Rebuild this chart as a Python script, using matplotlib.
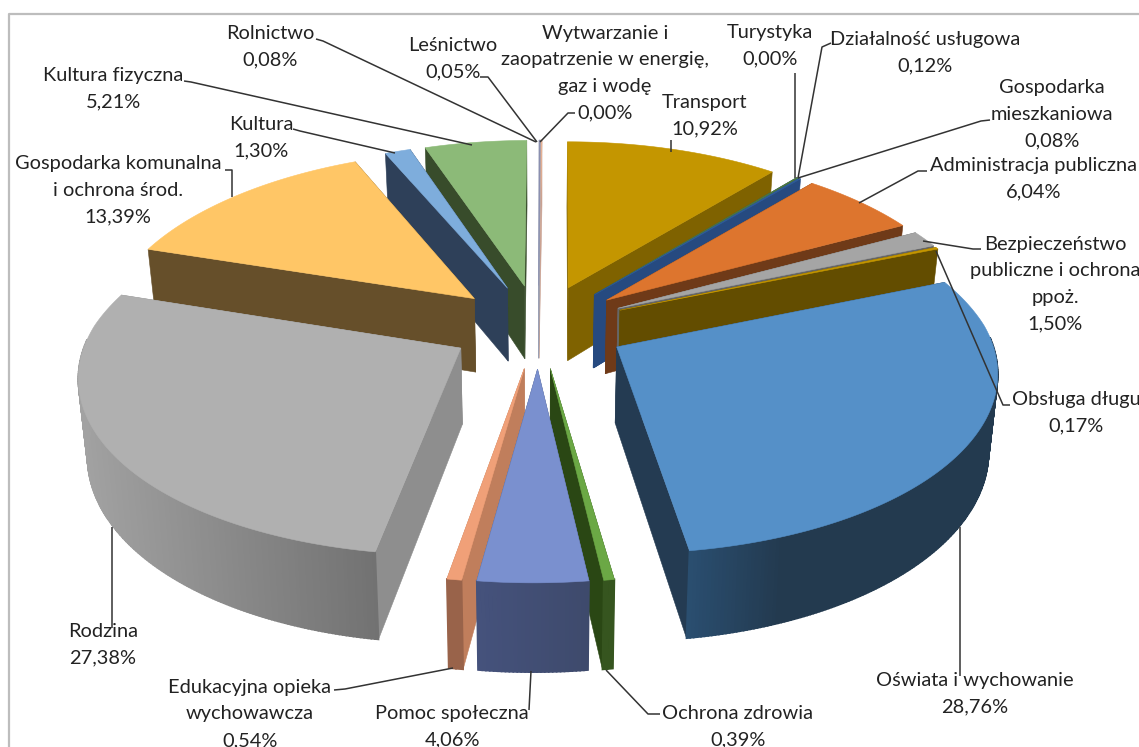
#!/usr/bin/env python3
"""
Exploded 3D pie of budget shares, drawn by hand since matplotlib has no 3D pie
"""

import numpy as np
import matplotlib
matplotlib.use('Agg')
import matplotlib.pyplot as plt
from matplotlib.patches import Polygon

# Slices, clockwise from 12 o'clock
names = ['Transport', 'Turystyka', 'Działalność usługowa', 'Gospodarka\nmieszkaniowa',
         'Administracja publiczna', 'Bezpieczeństwo\npubliczne i ochrona\nppoż.', 'Obsługa długu',
         'Oświata i wychowanie', 'Ochrona zdrowia', 'Pomoc społeczna',
         'Edukacyjna opieka\nwychowawcza', 'Rodzina', 'Gospodarka komunalna\ni ochrona środ.',
         'Kultura', 'Kultura fizyczna', 'Leśnictwo', 'Rolnictwo',
         'Wytwarzanie i\nzaopatrzenie w energię,\ngaz i wodę']
values = [10.92, 0.00, 0.12, 0.08, 6.04, 1.50, 0.17, 28.76, 0.39, 4.06,
          0.54, 27.38, 13.39, 1.30, 5.21, 0.05, 0.08, 0.00]

# Colours: top face, radial wall, outer wall left and right end
top_colors = ['#C49600', '#999999', '#4E7A3C', '#2E5C9A', '#DD752E', '#A5A5A5', '#C49600',
              '#5590C8', '#6BA845', '#7A90CF', '#F0A078', '#B0B0B0', '#FFC666',
              '#7EADDC', '#8CBA78', '#8A8FB0', '#E8B090', '#AAAAAA']
wall_colors = ['#7F6200', '#666666', '#264A80', '#264A80', '#6F3A18', '#666666', '#634D00',
               '#243B52', '#2A4714', '#434F74', '#C07E5C', '#8E8E8E', '#664F2A',
               '#2E4059', '#384C2B', '#9AA0B4', '#C8A090', '#888888']
arc_left = ['#7F6200', '#666666', '#264A80', '#264A80', '#6F3A18', '#666666', '#634D00',
            '#2A4E70', '#36551F', '#45527C', '#99634A', '#A2A2A2', '#664F2A',
            '#2E4059', '#384C2B', '#9AA0B4', '#C8A090', '#888888']
arc_right = ['#7F6200', '#666666', '#264A80', '#264A80', '#6F3A18', '#666666', '#634D00',
             '#233A4F', '#36551F', '#3E4A6C', '#99634A', '#727272', '#664F2A',
             '#2E4059', '#384C2B', '#9AA0B4', '#C8A090', '#888888']
# Share of the outer wall's width over which the shade changes
arc_reach = [1, 1, 1, 1, 1, 1, 1, 0.3, 1, 1, 1, 1, 1, 1, 1, 1, 1, 1]

# Text anchors and leader lines, in image pixels, same order as names
label_xy = [(705, 116), (770, 46), (925, 53), (1052, 114), (1034, 179), (1055, 284), (1076, 413),
            (975, 694), (738, 727), (452, 727), (250, 714), (103, 645), (118, 190),
            (261, 138), (113, 89), (453, 59), (270, 47), (605, 73)]
LINE_PITCH = 26.6
leaders = [[(671, 140), (671, 152)],
           [(795, 73), (795, 178)],
           [(831, 43), (822, 47), (798, 178)],
           [(990, 120), (981, 121), (798, 178)],
           [(927, 171), (918, 171), (859, 203)],
           [(981, 249), (973, 249), (923, 241)],
           [(1010, 405), (1003, 405), (936, 251)],
           [(960, 676), (960, 527)],
           [(660, 714), (648, 714), (606, 670)],
           [(529, 710), (531, 671)],
           [(334, 690), (345, 689), (453, 668)],
           [(112, 628), (112, 527)],
           [(225, 170), (232, 170), (232, 197)],
           [(293, 129), (300, 131), (395, 153)],
           [(184, 81), (191, 82), (472, 145)],
           [(480, 77), (488, 77), (537, 142)],
           [(316, 39), (323, 41), (536, 142)],
           [(575, 113), (568, 113), (540, 142)]]

# Projection of the pie plane on to the image
CX, CY = 540, 326
SX, SY = 371, 174
PERSP = 0.129
EXPLODE = 0.24
DEPTH = 75
SHRINK = 0.98
SHEAR = 0.02


def project(px, py):
    w = 1 + PERSP * py
    # back half comes in a bit more in x, and the whole pie leans to the left going down
    wx = w + 0.02 * np.maximum(py, 0)
    y = CY - SY * py / w
    return CX + SX * px / wx - SHEAR * (y - 250), y


def drop(x, y, py):
    # Same point on the underside of the slice
    w = 1 + PERSP * py
    return CX + (x - CX) * SHRINK, y + DEPTH / w


def blend(c1, c2, t):
    a = np.array(matplotlib.colors.to_rgb(c1))
    b = np.array(matplotlib.colors.to_rgb(c2))
    return tuple(a + (b - a) * t)


def add_poly(ax, pts, color, z, lw=0.4):
    ax.add_patch(Polygon(pts, closed=True, facecolor=color, edgecolor=color, linewidth=lw, zorder=z))


fig = plt.figure(figsize=(11.39, 7.47), dpi=100)
ax = fig.add_axes([0, 0, 1, 1])
ax.set_xlim(0, 1139)
ax.set_ylim(747, 0)
ax.axis('off')

# Chart frame, cut by the image on the right and at the bottom
ax.plot([9, 9, 1139], [747, 14, 14], color='#BDBDBD', lw=1.6, zorder=1)

fracs = np.array(values) / sum(values)
stops = np.concatenate([[0], np.cumsum(fracs)]) * 2 * np.pi
mids = (stops[:-1] + stops[1:]) / 2

# Back slices first so the front ones paint over them
z = 2
for i in np.argsort(-np.cos(mids)):
    if values[i] == 0:
        continue
    a0, a1 = stops[i], stops[i + 1]
    ox, oy = EXPLODE * np.sin(mids[i]), EXPLODE * np.cos(mids[i])
    ang = np.linspace(a0, a1, max(3, int(2 * np.degrees(a1 - a0))))
    px = ox + np.sin(ang)
    py = oy + np.cos(ang)
    sx, sy = project(px, py)
    bx, by = drop(sx, sy, py)
    ax0, ay0 = project(ox, oy)
    bx0, by0 = drop(ax0, ay0, oy)

    # Walls, the ones facing away first
    walls = [(np.cos(a0), [(ax0, ay0), (sx[0], sy[0]), (bx[0], by[0]), (bx0, by0)]),
             (np.cos(a1), [(ax0, ay0), (sx[-1], sy[-1]), (bx[-1], by[-1]), (bx0, by0)])]
    for _, pts in sorted(walls, key=lambda w: -w[0]):
        add_poly(ax, pts, wall_colors[i], z)
        z += 1

    # Outer wall as small quads for the shading, only the part facing the viewer
    xmin, xmax = bx.min(), bx.max()
    for j in range(len(ang) - 1):
        if np.cos((ang[j] + ang[j + 1]) / 2) > 0.05:
            continue
        t = ((bx[j] + bx[j + 1]) / 2 - xmin) / max(xmax - xmin, 1)
        t = min(t / arc_reach[i], 1)
        add_poly(ax, [(sx[j], sy[j]), (sx[j + 1], sy[j + 1]), (bx[j + 1], by[j + 1]), (bx[j], by[j])],
                 blend(arc_left[i], arc_right[i], t), z, lw=1.2)
        z += 1

    add_poly(ax, [(ax0, ay0)] + list(zip(sx, sy)), top_colors[i], z)
    z += 1

# Leader lines and labels on top
for line in leaders:
    xs, ys = zip(*line)
    ax.plot(xs, ys, color='#333333', lw=1.1, zorder=z, solid_capstyle='butt')
for name, val, (x, y) in zip(names, values, label_xy):
    rows = name.split('\n') + [f'{val:.2f}'.replace('.', ',') + '%']
    for k, row in enumerate(rows):
        ax.text(x, y + (k - (len(rows) - 1) / 2) * LINE_PITCH, row, ha='center', va='center',
                fontsize=14.4, family='Lato', color='#222222', zorder=z + 1)

fig.savefig('out.png', dpi=100)
